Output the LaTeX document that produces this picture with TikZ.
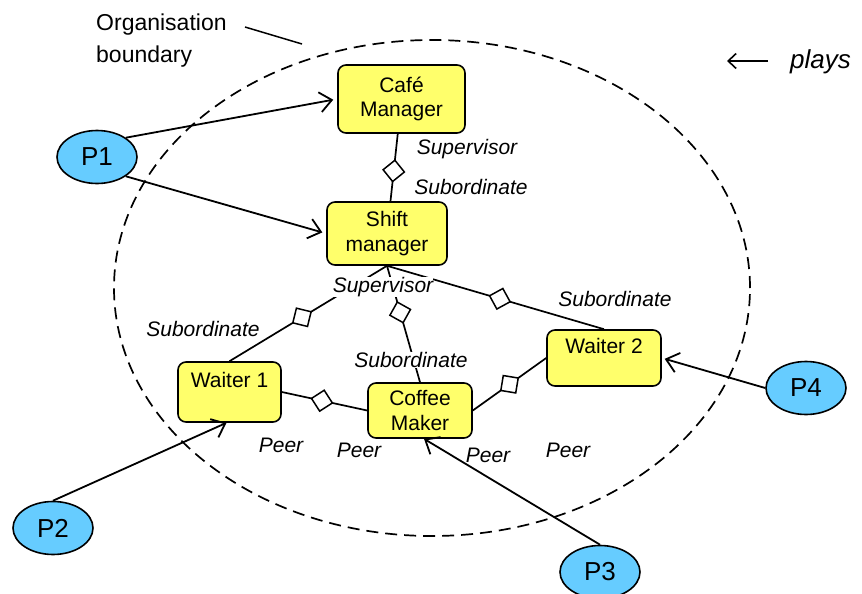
\documentclass[tikz,border=0pt]{standalone}
\usepackage{fontspec}
\setmainfont{Liberation Sans}
\usetikzlibrary{arrows.meta,shapes.geometric}
\definecolor{rolefill}{HTML}{FFFF6B}
\definecolor{personfill}{HTML}{66CCFF}
\begin{document}
\begin{tikzpicture}[x=1pt,y=-1pt,
  lbl/.style={font=\fontsize{21}{24}\selectfont\itshape, inner sep=1pt},
  role/.style={draw, line width=1.6pt, fill=rolefill, rounded corners=8pt, align=center,
    inner sep=0pt, font=\fontsize{21}{24.5}\selectfont},
  person/.style={ellipse, draw, line width=1.6pt, fill=personfill, minimum width=80pt,
    minimum height=53pt, inner sep=0pt, font=\fontsize{26}{30}\selectfont},
  link/.style={line width=1.7pt},
  plays/.style={line width=1.8pt, -{Straight Barb[length=12pt,width=20pt,line width=1.8pt]}},
  agg/.style={diamond, draw, fill=white, line width=1.5pt, minimum size=22pt, inner sep=0pt,
    sloped, pos=#1},
]
\useasboundingbox (0,0) rectangle (862,594);

% organisation boundary
\draw[line width=1.7pt, dash pattern=on 12pt off 7pt] (432,288) ellipse [x radius=318pt, y radius=248pt];

% roles
\node[role, minimum width=127pt, minimum height=68pt] (cafe) at (401.5,99) {Café\\Manager};
\node[role, minimum width=120pt, minimum height=63pt] (shift) at (387,233.5) {Shift\\manager};
\node[role, minimum width=103pt, minimum height=60pt] (w1) at (229.5,392) {Waiter 1\\\phantom{W}};
\node[role, minimum width=104pt, minimum height=55pt] (coffee) at (420,410.5) {Coffee\\Maker};
\node[role, minimum width=114pt, minimum height=56pt] (w2) at (604,358) {Waiter 2\\\phantom{W}};

% persons
\node[person] (p1) at (97,157) {P1};
\node[person] (p2) at (53,528) {P2};
\node[person] (p3) at (600,572) {P3};
\node[person] (p4) at (806,388) {P4};

% role relationships
\draw[link] (cafe) -- node[agg=0.55]{} (shift);
\draw[link] (shift.south) -- node[agg=0.54]{} (w1.north);
\draw[link] (shift.south) -- node[agg=0.4]{} (coffee.north);
\draw[link] (shift.south) -- node[agg=0.52]{} (w2.north);
\draw[link] (w1.east) -- node[agg=0.47]{} (coffee.west);
\draw[link] (coffee.east) -- node[agg=0.5]{} (w2.west);

% plays
\draw[plays, shorten >=4pt] (p1.north east) -- (cafe.west);
\draw[plays, shorten >=4pt] (p1.south east) -- (shift.west);
\draw[plays] (p2.north) -- ([xshift=-3pt]w1.south);
\draw[plays] (p3.north) -- ([xshift=4pt]coffee.south);
\draw[plays, shorten >=3pt] (p4.west) -- (w2.east);

% relationship labels
\node[lbl] (supA) at (467,149) {Supervisor};
\node[lbl] (subA) at (471,187) {Subordinate};
\node[lbl, fill=white, inner sep=0pt] (supB) at (383,287) {Supervisor};
\node[lbl] (subL) at (203,329) {Subordinate};
\node[lbl, fill=white, inner sep=0pt] (subM) at (411,360) {Subordinate};
\node[lbl] (subR) at (615,299) {Subordinate};
\node[lbl] (peerA) at (281,445) {Peer};
\node[lbl] (peerB) at (359,450) {Peer};
\node[lbl] (peerC) at (488,455) {Peer};
\node[lbl] (peerD) at (568,450) {Peer};

% boundary caption
\node[font=\fontsize{23}{32}\selectfont, align=left, anchor=west, inner sep=0pt] (org) at (96,41) {Organisation\\boundary};
\coordinate (orgA) at (245,27);
\coordinate (orgB) at (302,44);
\draw[line width=1.5pt] (orgA) -- (orgB);

% legend
\coordinate (legA) at (768,61);
\coordinate (legB) at (727,61);
\draw[line width=1.6pt, -{Straight Barb[length=8pt,width=15pt,line width=1.6pt]}] (legA) -- (legB);
\node[lbl, font=\fontsize{26}{30}\selectfont\itshape, anchor=west] (playslbl) at (789,62) {plays};
\end{tikzpicture}
\end{document}
